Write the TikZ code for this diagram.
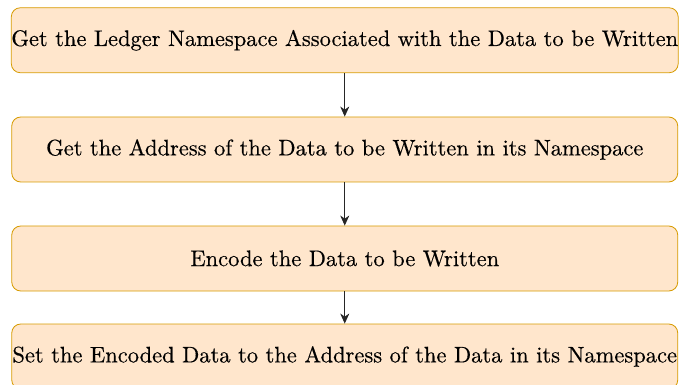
\documentclass[tikz,border=0pt]{standalone}
\usepackage{fontspec}
\usepackage{tikz}
\usetikzlibrary{arrows.meta, positioning}

\newfontfamily\boxfont[FakeBold=0.4]{lmroman10-regular.otf}

\definecolor{boxfill}{HTML}{FFE6CC}
\definecolor{boxline}{HTML}{D79B00}

\tikzset{
    stepbox/.style={draw=boxline, fill=boxfill, rounded corners=9pt, line width=0.8pt,
        minimum width=666pt, minimum height=65pt, inner sep=0pt,
        font=\boxfont\fontsize{22.5}{27}\selectfont},
    flow/.style={-{Stealth[length=10pt, width=9pt, inset=3pt]}, line width=0.9pt, black!85}
}

\begin{document}
\begin{tikzpicture}[x=1pt, y=-1pt]

% Canvas
\useasboundingbox (0,0) rectangle (694,385);

% Steps
\node[stepbox] (ns) at (344.75,40.25) {Get the Ledger Namespace Associated with the Data to be Written};
\node[stepbox] (addr) at (344.75,149.5) {Get the Address of the Data to be Written in its Namespace};
\node[stepbox] (enc) at (344.75,258.5) {Encode the Data to be Written};
\node[stepbox] (set) at (344.75,356.5) {Set the Encoded Data to the Address of the Data in its Namespace};

% Arrows
\draw[flow] (ns) -- (addr);
\draw[flow] (addr) -- (enc);
\draw[flow] (enc) -- (set);

\end{tikzpicture}
\end{document}
